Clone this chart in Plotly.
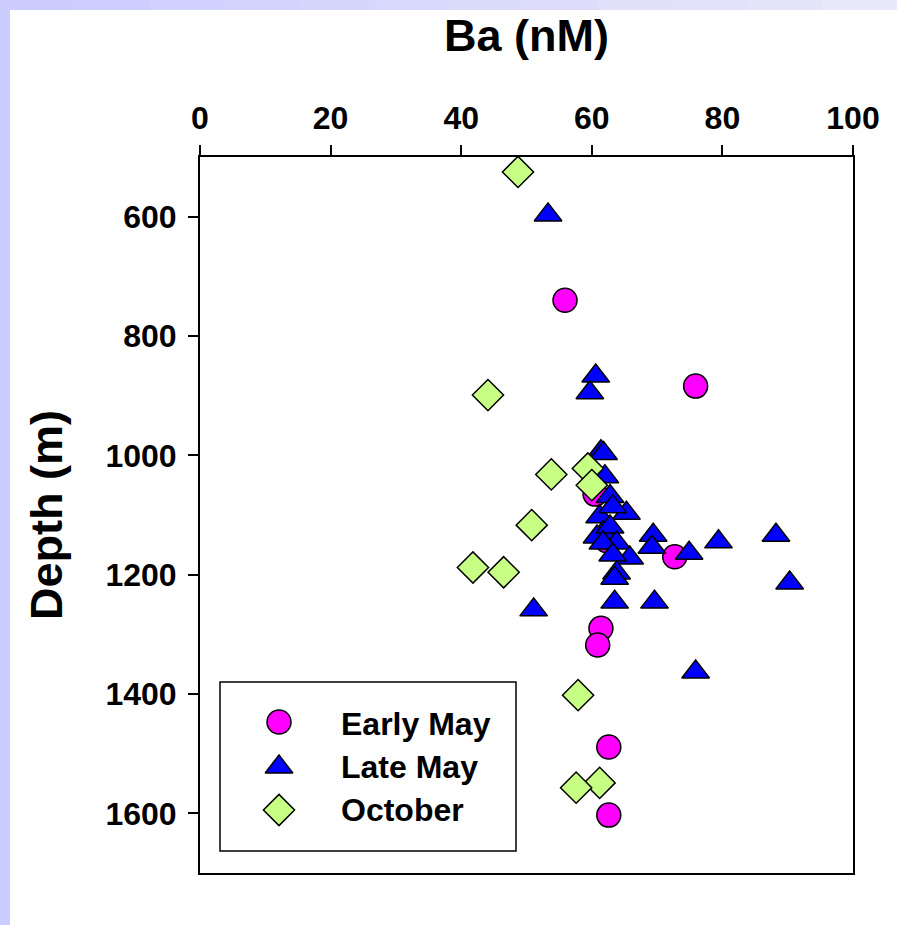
import plotly.graph_objects as go

# Ba concentration (nM) versus depth (m), three sampling periods
series_names = ["Early May", "Late May", "October"]

early_may_ba = [55.9, 75.9, 60.5, 62.3, 72.7, 61.4, 60.9, 62.6, 62.6]
early_may_depth = [740, 884, 1065, 1143, 1170, 1290, 1318, 1489, 1603]

late_may_ba = [53.3, 60.6, 59.7, 61.4, 61.8, 62.0, 62.8, 65.3, 61.2, 63.2,
               61.7, 60.8, 62.8, 63.8, 65.8, 61.7, 63.2, 63.8, 63.5, 63.5,
               69.6, 69.4, 69.2, 74.9, 79.4, 88.2, 90.3, 51.1, 75.9]
late_may_depth = [597, 867, 895, 994, 997, 1036, 1069, 1097, 1103, 1086,
                  1130, 1137, 1120, 1147, 1172, 1147, 1167, 1197, 1206, 1246,
                  1246, 1134, 1154, 1164, 1145, 1134, 1214, 1259, 1363]

october_ba = [48.7, 44.1, 53.8, 50.8, 41.8, 46.5, 59.4, 60.0, 57.9, 61.2, 57.6]
october_depth = [525, 899, 1032, 1117, 1188, 1196, 1022, 1050, 1402, 1549, 1557]

x_ticks = [0, 20, 40, 60, 80, 100]
y_ticks = [600, 800, 1000, 1200, 1400, 1600]

FONT = "Arial, Liberation Sans, sans-serif"
outline = dict(color="black", width=1.5)

styles = [
    dict(symbol="circle", size=24, color="#FF00FF", line=outline),
    dict(symbol="triangle-up", size=24, color="#0000FF", line=outline),
    dict(symbol="diamond", size=24, color="#C6FF84", line=outline),
]
data = [(early_may_ba, early_may_depth),
        (late_may_ba, late_may_depth),
        (october_ba, october_depth)]

fig = go.Figure()
for name, (xs, ys), st in zip(series_names, data, styles):
    fig.add_trace(go.Scatter(x=xs, y=ys, mode="markers", name=name,
                             marker=st, showlegend=False))

# plot area spans 653 x 716 px; helpers to place decorations in paper units
W, H = 653.0, 716.0
def px_x(px):
    return (px - 200) / W
def px_y(py):
    return (873 - py) / H

# key: full-size symbols on an overlay axis measured in page pixels
key_rows = [722, 767, 810]
key_sym_x = 279
key_text_x = 339
fig.add_trace(go.Scatter(
    x=[key_sym_x] * 3, y=key_rows, mode="markers", xaxis="x2", yaxis="y2",
    showlegend=False, hoverinfo="skip",
    marker=dict(symbol=[s["symbol"] for s in styles],
                color=[s["color"] for s in styles],
                size=24, line=outline)))

annotations = [
    dict(text=name, xref="paper", yref="paper", x=px_x(key_text_x),
         y=px_y(row + (2 if i == 0 else 0)), xanchor="left", yanchor="middle",
         showarrow=False, font=dict(family=FONT, size=32, weight="bold", color="black"))
    for i, (name, row) in enumerate(zip(series_names, key_rows))
]

shapes = [
    # lavender frame strips on the page edge
    dict(type="rect", xref="paper", yref="paper", layer="below",
         x0=px_x(0), x1=px_x(10), y0=px_y(925), y1=px_y(0),
         fillcolor="#CCCCFF", line=dict(width=0)),
]
# top strip fades to the right
steps = 12
for i in range(steps):
    t = i / (steps - 1)
    r = int(204 + (232 - 204) * t)
    g = int(204 + (232 - 204) * t)
    b = int(255 + (250 - 255) * t)
    shapes.append(dict(type="rect", xref="paper", yref="paper", layer="below",
                       x0=px_x(897 * i / steps), x1=px_x(897 * (i + 1) / steps + 1),
                       y0=px_y(10), y1=px_y(0),
                       fillcolor=f"rgb({r},{g},{b})", line=dict(width=0)))
# key frame
shapes.append(dict(type="rect", xref="paper", yref="paper",
                   x0=px_x(220), x1=px_x(516), y0=px_y(851), y1=px_y(682),
                   line=dict(color="black", width=1.5), fillcolor="rgba(0,0,0,0)"))

fig.update_layout(
    width=897, height=925,
    margin=dict(l=200, r=44, t=157, b=52),
    paper_bgcolor="white", plot_bgcolor="white",
    font=dict(family=FONT, color="black"),
    showlegend=False,
    shapes=shapes,
    annotations=annotations,
    xaxis=dict(
        side="top", range=[0, 100], tickvals=x_ticks,
        ticks="outside", ticklen=10, tickwidth=1.5, tickcolor="black",
        showline=True, linewidth=2, linecolor="black", mirror=True,
        showgrid=False, zeroline=False, ticklabelstandoff=3,
        tickfont=dict(family=FONT, size=32, weight="bold"),
        title=dict(text="Ba (nM)", standoff=34,
                   font=dict(family=FONT, size=45, weight="bold")),
    ),
    yaxis=dict(
        range=[1700, 500], tickvals=y_ticks,
        ticks="outside", ticklen=10, tickwidth=1.5, tickcolor="black",
        showline=True, linewidth=2, linecolor="black", mirror=True,
        showgrid=False, zeroline=False, ticklabelstandoff=5,
        tickfont=dict(family=FONT, size=32, weight="bold"),
        title=dict(text="Depth (m)", standoff=29,
                   font=dict(family=FONT, size=45, weight="bold")),
    ),
    xaxis2=dict(overlaying="x", anchor="y2", range=[200, 853], visible=False,
                fixedrange=True),
    yaxis2=dict(overlaying="y", anchor="x2", range=[873, 157], visible=False,
                fixedrange=True),
)

fig.write_html("out.html")
